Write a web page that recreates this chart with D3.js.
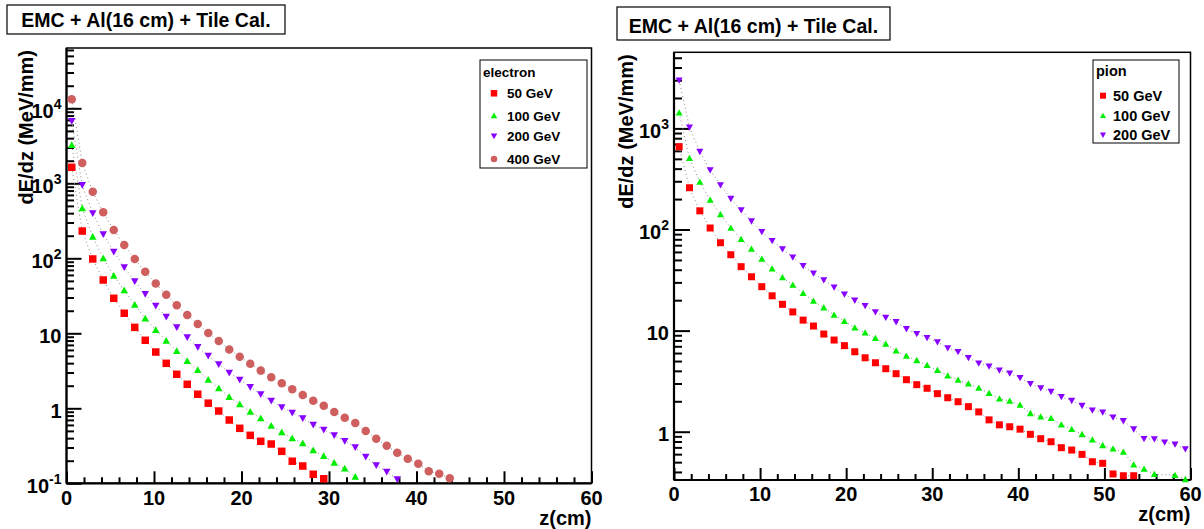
<!DOCTYPE html>
<html><head><meta charset="utf-8">
<script src="https://cdn.jsdelivr.net/npm/d3@7"></script>
<style>
html,body{margin:0;padding:0;background:#fff;}
svg{display:block;font-family:"Liberation Sans",Arial,Helvetica,sans-serif;font-weight:bold;}
</style></head>
<body><svg id="c" width="1204" height="529"></svg>
<script>
// ---- data ----
const zCm = [0.6,1.8,3.0,4.2,5.4,6.6,7.8,9.0,10.2,11.4,12.6,13.8,15.0,16.2,17.4,18.6,19.8,21.0,22.2,23.4,24.6,25.8,27.0,28.2,29.4,30.6,31.8,33.0,34.2,35.4,36.6,37.8,39.0,40.2,41.4,42.6,43.8,45.0,46.2,47.4,48.6,49.8,51.0,52.2,53.4,54.6,55.8,57.0,58.2,59.4];

const electron50  = [1635,231,98,51.4,29.3,18.5,12.0,8.07,5.63,3.98,2.84,2.09,1.54,1.17,0.92,0.698,0.541,0.436,0.363,0.334,0.267,0.197,0.170,0.132,0.115];
const electron100 = [3240,464,194,100,58.6,37.5,24.0,15.8,11.1,7.96,5.81,4.27,3.24,2.41,1.85,1.42,1.13,0.90,0.735,0.586,0.479,0.398,0.341,0.275,0.231,0.188,0.157,0.122];
const electron200 = [6770,949,398,209,122,76,49.5,33.4,23.3,16.6,12.0,8.85,6.56,5.02,3.86,2.98,2.41,1.92,1.54,1.26,1.03,0.874,0.736,0.604,0.519,0.436,0.366,0.302,0.226,0.174,0.143,0.113];
const electron400 = [13200,1870,773,411,238,150,98,66,46,32.7,23.6,17.5,13.3,10.1,7.9,6.1,4.87,3.93,3.18,2.59,2.15,1.79,1.50,1.26,1.08,0.893,0.75,0.637,0.498,0.394,0.317,0.256,0.213,0.182,0.145,0.134,0.117];

const pion50  = [659,259,153,103.5,74,56.3,42.9,34.1,27.2,22.1,18.2,15.3,12.7,11.1,9.25,8.07,7.1,6.18,5.39,4.81,4.2,3.75,3.27,2.92,2.69,2.38,2.17,1.98,1.77,1.57,1.31,1.17,1.12,1.06,0.942,0.853,0.796,0.695,0.659,0.597,0.505,0.487,0.382,0.367,0.367];
const pion100 = [1430,506,295,196,141,103.5,80,64.1,51.1,40.9,33.6,28.3,23.4,19.6,16.9,14.3,12.4,10.7,9.53,8.39,7.37,6.32,5.61,5.08,4.54,4.05,3.58,3.25,2.98,2.71,2.40,2.12,2.01,1.84,1.52,1.41,1.36,1.17,1.06,0.942,0.834,0.733,0.679,0.63,0.472,0.428,0.379,0.31,0.371,0.338];
const pion200 = [2990,1025,589,388,275,202,156,121,95,77.4,64.1,53.1,43.8,36.9,31.7,26.8,22.9,19.9,17.6,15.3,13.5,12.2,10.4,9.31,8.5,7.71,6.73,6.18,5.39,4.75,4.43,4.05,3.78,3.42,2.98,2.71,2.49,2.22,2.03,1.81,1.63,1.56,1.39,1.28,1.06,0.853,0.847,0.785,0.75,0.674];

const energyLabels = ["50 GeV","100 GeV","200 GeV","400 GeV"];
const xTickValues = [0,10,20,30,40,50,60];
const leftYTickValues = [0.1,1,10,100,1000,10000];
const rightYTickValues = [1,10,100,1000];
const titleText = "EMC + Al(16 cm) + Tile Cal.";
const yTitle = "dE/dz (MeV/mm)";
const xTitle = "z(cm)";

// ---- styles ----
const colors = ["#ff0000","#00ee00","#8800ff","#cf5f5f"];
const shapes = ["square","triangleUp","triangleDown","circle"];

const svg = d3.select("#c");

function markerPath(shape, s){
  const h = s/2;
  if(shape==="square") return `M${-h},${-h}h${s}v${s}h${-s}Z`;
  if(shape==="triangleUp") return `M0,${-h}L${h},${h*0.8}L${-h},${h*0.8}Z`;
  if(shape==="triangleDown") return `M0,${h}L${h},${-h*0.8}L${-h},${-h*0.8}Z`;
  return d3.symbol(d3.symbolCircle, Math.PI*h*h)();
}

function fmtPow(g, v){
  const e = Math.round(Math.log10(v));
  if(e===0){ g.text("1"); return; }
  if(e===1){ g.text("10"); return; }
  g.append("tspan").text("10");
  g.append("tspan").attr("dy",-9).attr("font-size",14).text(String(e));
}

function panel(cfg){
  const g = svg.append("g");
  const x = d3.scaleLinear().domain([0,60]).range([cfg.x0,cfg.x1]);
  const y = d3.scaleLog().domain(cfg.yDomain).range([cfg.y1,cfg.y0]);

  // frame
  g.append("rect").attr("x",cfg.x0).attr("y",cfg.y0).attr("width",cfg.x1-cfg.x0).attr("height",cfg.y1-cfg.y0)
    .attr("fill","none").attr("stroke","#000").attr("stroke-width",1.5);

  // minor y ticks
  const [lo,hi] = cfg.yDomain;
  const minors = [];
  for(let k=Math.floor(Math.log10(lo)); k<=Math.ceil(Math.log10(hi)); k++){
    for(let m=2;m<=9;m++){ const v=m*Math.pow(10,k); if(v>=lo && v<=hi) minors.push(v); }
  }
  const yMinor = d3.axisLeft(y).tickValues(minors).tickSize(-cfg.yMinorLen).tickFormat("");
  const yMajor = d3.axisLeft(y).tickValues(cfg.yTicks).tickSize(-cfg.yMajorLen).tickFormat("");
  [yMinor,yMajor].forEach(ax=>{
    const a = g.append("g").attr("transform",`translate(${cfg.x0},0)`).call(ax);
    a.select(".domain").remove();
    a.selectAll("line").attr("stroke","#000").attr("stroke-width",2);
  });
  // x ticks
  const xMinorVals = d3.range(0,61,2).filter(v=>v%10!==0);
  const xMinor = d3.axisBottom(x).tickValues(xMinorVals).tickSize(-6).tickFormat("");
  const xMajor = d3.axisBottom(x).tickValues(xTickValues).tickSize(-12).tickFormat("");
  [xMinor,xMajor].forEach(ax=>{
    const a = g.append("g").attr("transform",`translate(0,${cfg.y1})`).call(ax);
    a.select(".domain").remove();
    a.selectAll("line").attr("stroke","#000").attr("stroke-width",2);
  });
  // axis lines
  g.append("line").attr("x1",cfg.x0).attr("x2",cfg.x0).attr("y1",cfg.y0).attr("y2",cfg.y1).attr("stroke","#000").attr("stroke-width",2.2);
  g.append("line").attr("x1",cfg.x0).attr("x2",cfg.x1).attr("y1",cfg.y1).attr("y2",cfg.y1).attr("stroke","#000").attr("stroke-width",2.2);

  // tick labels
  g.selectAll(".xl").data(xTickValues).enter().append("text")
    .attr("x",d=>x(d)).attr("y",cfg.y1+cfg.xLabelOff).attr("text-anchor","middle")
    .attr("font-size",20).text(d=>d);
  g.selectAll(".yl").data(cfg.yTicks).enter().append("text")
    .attr("x",cfg.x0-5).attr("y",d=>y(d)+9.5).attr("text-anchor","end")
    .attr("font-size",20).each(function(d){ fmtPow(d3.select(this), d); });

  // axis titles
  g.append("text").attr("x",cfg.x1).attr("y",cfg.xTitleY).attr("text-anchor","end").attr("font-size",20).text(xTitle);
  g.append("text").attr("transform",`translate(${cfg.yTitleX},${cfg.y0+2}) rotate(-90)`)
    .attr("text-anchor","end").attr("font-size",20).text(yTitle);

  // title box
  g.append("rect").attr("x",cfg.tb[0]).attr("y",cfg.tb[1]).attr("width",cfg.tb[2]).attr("height",cfg.tb[3])
    .attr("fill","#fff").attr("stroke","#000").attr("stroke-width",1.2);
  g.append("text").attr("x",cfg.tb[0]+cfg.tb[2]/2).attr("y",cfg.tb[1]+cfg.tb[3]-7.5).attr("text-anchor","middle")
    .attr("font-size",19.5).text(titleText);

  // series
  const line = d3.line().x(d=>x(d.z)).y(d=>y(d.v));
  cfg.series.forEach((vals,si)=>{
    const pts = vals.map((v,i)=>({z:zCm[i],v})).filter(d=>d.v>=lo && d.v<=hi);
    g.append("path").attr("d",line(pts)).attr("fill","none").attr("stroke","#888")
      .attr("stroke-width",1).attr("stroke-dasharray","1,3");
    g.selectAll(null).data(pts).enter().append("path")
      .attr("transform",d=>`translate(${x(d.z)},${y(d.v)})`)
      .attr("d",markerPath(shapes[si], si===3?cfg.ms+1:cfg.ms)).attr("fill",colors[si]);
  });

  // legend
  const L = cfg.legend;
  g.append("rect").attr("x",L.x).attr("y",L.y).attr("width",L.w).attr("height",L.h)
    .attr("fill","#fff").attr("stroke","#000").attr("stroke-width",1);
  g.append("text").attr("x",L.x+3).attr("y",L.headY).attr("font-size",L.fs).text(L.head);
  cfg.series.forEach((vals,si)=>{
    const yy = L.rowY[si];
    g.append("path").attr("transform",`translate(${L.mx},${yy})`)
      .attr("d",markerPath(shapes[si], L.ms)).attr("fill",colors[si]);
    g.append("text").attr("x",L.tx).attr("y",yy+L.fs*0.36).attr("font-size",L.fs).text(energyLabels[si]);
  });
}

panel({
  x0:66.5, x1:591.5, y0:48, y1:483.3, yDomain:[0.1,63700], yTicks:leftYTickValues,
  yMajorLen:15, yMinorLen:7.5, xLabelOff:22, xTitleY:524.5, yTitleX:33, ms:7.5,
  tb:[7,5,278,29],
  series:[electron50,electron100,electron200,electron400],
  legend:{x:480,y:60,w:107,h:108,head:"electron",headY:77,fs:13.5,mx:494,tx:507,ms:6.5,rowY:[93.3,115.7,136,159]}
});
panel({
  x0:674, x1:1190.5, y0:52.3, y1:480, yDomain:[0.333,5660], yTicks:rightYTickValues,
  yMajorLen:16, yMinorLen:8, xLabelOff:20.5, xTitleY:521, yTitleX:633, ms:7,
  tb:[617,7,273,33],
  series:[pion50,pion100,pion200],
  legend:{x:1093,y:60,w:86,h:83,head:"pion",headY:76,fs:14.5,mx:1103,tx:1113,ms:6,rowY:[95.7,115.7,135]}
});
</script></body></html>
